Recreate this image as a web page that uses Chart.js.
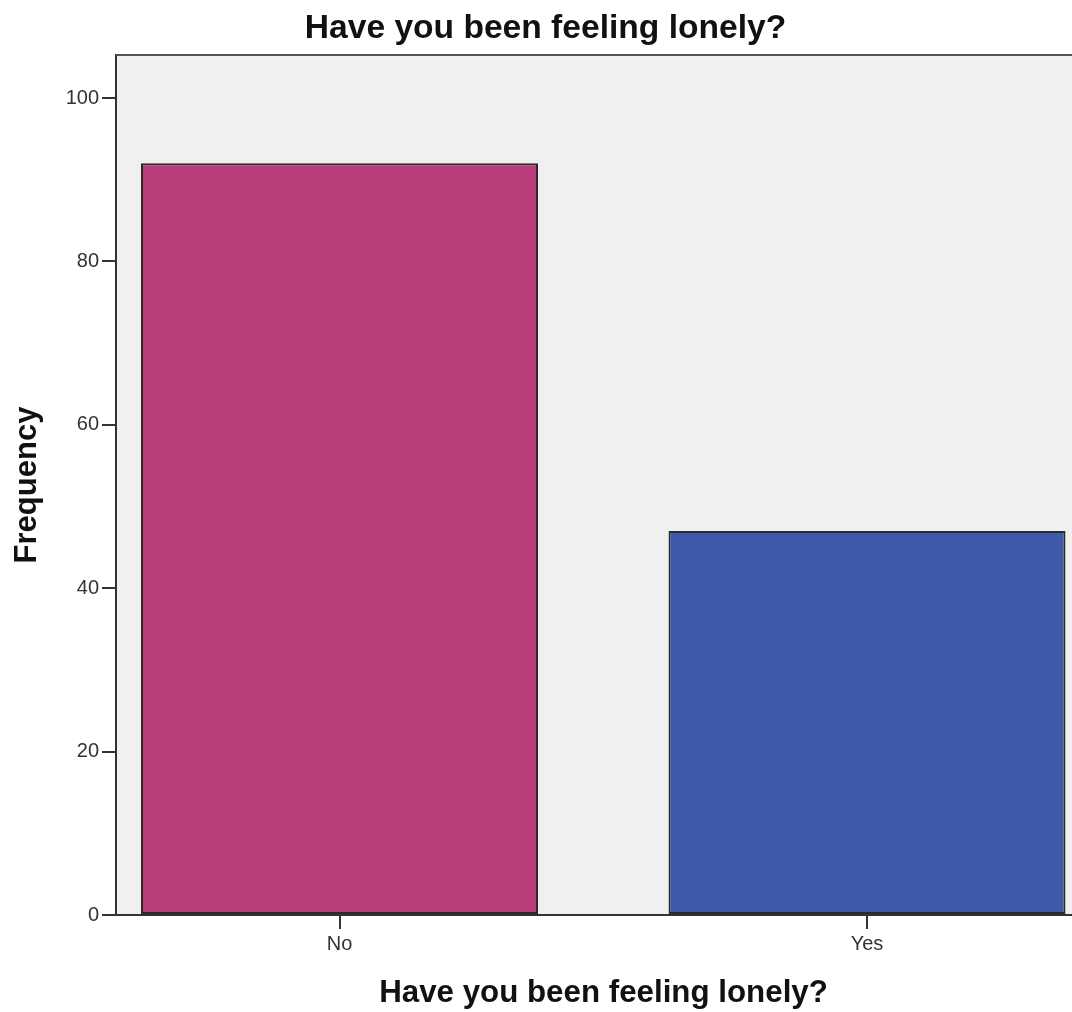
<!DOCTYPE html>
<html>
<head>
<meta charset="utf-8">
<title>Have you been feeling lonely?</title>
<script src="https://cdn.jsdelivr.net/npm/chart.js@4.4.1/dist/chart.umd.min.js"></script>
<style>
    html, body { margin: 0; background: #fff; overflow: hidden; }
    #wrap { width: 1091px; height: 1012px; }
</style>
</head>
<body>
<div id="wrap"><canvas id="lonelyChart" width="1091" height="1012"></canvas></div>
<script>
// Data
const categories = ['No', 'Yes'];
const frequencies = [92, 47];
const yTicks = [0, 20, 40, 60, 80, 100];

const chartTitle = 'Have you been feeling lonely?';
const xTitle = 'Have you been feeling lonely?';
const yTitle = 'Frequency';

const barColors = ['#BA3D7B', '#3E58AA'];

// Light grey plot background + top frame line (SPSS style)
const plotFrame = {
    id: 'plotFrame',
    beforeDraw(chart) {
        const { ctx, chartArea } = chart;
        ctx.save();
        ctx.fillStyle = '#F0F0F0';
        ctx.fillRect(chartArea.left, chartArea.top, chartArea.right - chartArea.left, chartArea.bottom - chartArea.top);
        ctx.restore();
    },
    afterDraw(chart) {
        const { ctx, chartArea } = chart;
        ctx.save();
        ctx.strokeStyle = '#555';
        ctx.lineWidth = 2;
        ctx.beginPath();
        ctx.moveTo(chartArea.left, chartArea.top);
        ctx.lineTo(chartArea.right, chartArea.top);
        ctx.lineTo(chartArea.right, chartArea.bottom);
        ctx.stroke();
        ctx.restore();
    }
};

const ctx = document.getElementById('lonelyChart').getContext('2d');
const lonelyChart = new Chart(ctx, {
    type: 'bar',
    data: {
        datasets: [{
            label: 'Frequency',
            data: categories.map((c, i) => ({ x: i, y: frequencies[i] })),
            backgroundColor: barColors,
            borderColor: '#2a2a2a',
            borderWidth: 2,
            borderSkipped: false,
            categoryPercentage: 1,
            barPercentage: 0.7526
        }]
    },
    options: {
        responsive: false,
        animation: false,
        devicePixelRatio: 1,
        layout: { padding: 0 },
        plugins: {
            legend: { display: false },
            tooltip: { enabled: false },
            title: {
                display: true,
                text: chartTitle,
                color: '#111',
                font: { family: 'Liberation Sans', size: 33.6, weight: 'bold' },
                padding: { top: 9, bottom: 5.7 }
            }
        },
        scales: {
            x: {
                type: 'linear',
                min: -0.4237,
                max: 1.4246,
                offset: false,
                afterBuildTicks: (scale) => {
                    scale.ticks = categories.map((c, i) => ({ value: i }));
                },
                afterFit: (scale) => { scale.height = 97; },
                ticks: {
                    callback: (value) => categories[value],
                    color: '#333',
                    padding: 3,
                    maxRotation: 0,
                    font: { family: 'Liberation Sans', size: 20 }
                },
                grid: {
                    display: true,
                    drawOnChartArea: false,
                    drawTicks: true,
                    tickLength: 14,
                    offset: false,
                    color: '#333',
                    lineWidth: 2
                },
                border: { display: true, color: '#333', width: 2 },
                title: {
                    display: true,
                    text: xTitle,
                    color: '#111',
                    font: { family: 'Liberation Sans', size: 31.3, weight: 'bold' },
                    padding: { top: 0, bottom: 0 }
                }
            },
            y: {
                min: 0,
                max: 105.26,
                afterBuildTicks: (scale) => {
                    scale.ticks = yTicks.map(v => ({ value: v }));
                },
                afterFit: (scale) => { scale.width = 116; },
                ticks: {
                    color: '#333',
                    padding: 3,
                    font: { family: 'Liberation Sans', size: 20 }
                },
                grid: {
                    display: true,
                    drawOnChartArea: false,
                    drawTicks: true,
                    tickLength: 14,
                    color: '#333',
                    lineWidth: 2
                },
                border: { display: true, color: '#333', width: 2 },
                title: {
                    display: true,
                    text: yTitle,
                    color: '#111',
                    font: { family: 'Liberation Sans', size: 31, weight: 'bold' },
                    padding: { top: 9, bottom: 0 }
                }
            }
        }
    },
    plugins: [plotFrame]
});
</script>
</body>
</html>
